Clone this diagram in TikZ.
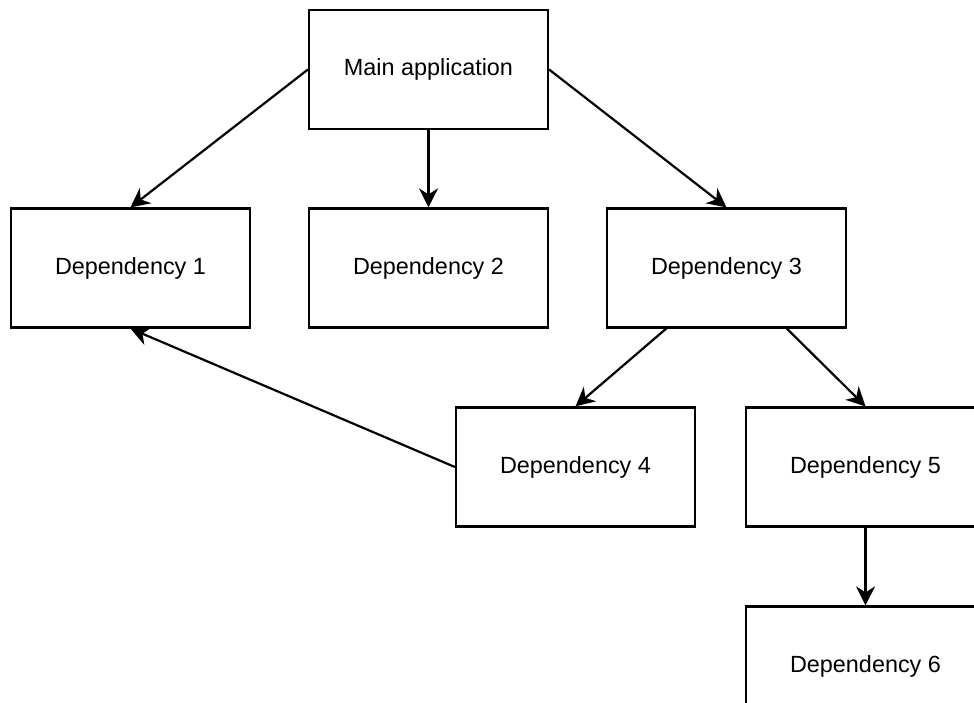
\documentclass[tikz,border=0pt]{standalone}
\usepackage{fontspec}
\setmainfont{Liberation Sans}
\usetikzlibrary{arrows.meta,calc}
\begin{document}
\begin{tikzpicture}[x=1pt,y=-1pt,
  box/.style={draw=black, line width=2.2pt, fill=white, minimum width=239pt, minimum height=119pt,
    inner sep=0pt, font=\fontsize{23.4pt}{28pt}\selectfont},
  link/.style={line width=2.2pt, -{Stealth[length=19pt,width=19pt,inset=6pt]}}]
\useasboundingbox (0,0) rectangle (974,702);
\clip (0,0) rectangle (974,702);
\fill[white] (0,0) rectangle (974,702);
\node[box] (main) at (428.5,69.5) {Main application};
\node[box] (d1) at (130.5,268) {Dependency 1};
\node[box] (d2) at (428.5,268) {Dependency 2};
\node[box] (d3) at (726.5,268) {Dependency 3};
\node[box] (d4) at (575.5,467) {Dependency 4};
\node[box] (d5) at (865.5,467) {Dependency 5};
\node[box] (d6) at (865.5,666) {Dependency 6};
\coordinate (d3a) at ($(d3.south west)!0.25!(d3.south east)$);
\coordinate (d3b) at ($(d3.south west)!0.75!(d3.south east)$);
\draw[link] (main.west) -- (d1.north);
\draw[link] (main.south) -- (d2.north);
\draw[link] (main.east) -- (d3.north);
\draw[link] (d3a) -- (d4.north);
\draw[link] (d3b) -- (d5.north);
\draw[link] (d4.west) -- (d1.south);
\draw[link] (d5.south) -- (d6.north);
\end{tikzpicture}
\end{document}
